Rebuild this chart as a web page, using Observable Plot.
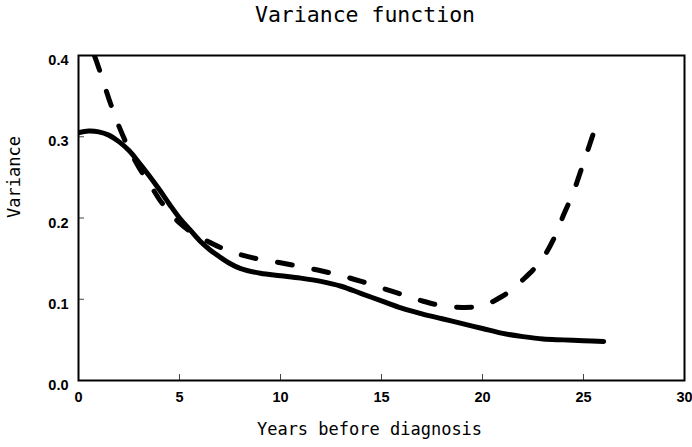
<!DOCTYPE html>
<html>
<head>
<meta charset="utf-8">
<script src="https://cdn.jsdelivr.net/npm/d3@7"></script>
<script src="https://cdn.jsdelivr.net/npm/@observablehq/plot@0.6"></script>
<style>
  body { margin: 0; background: white; }
  #wrap { width: 692px; height: 447px; position: relative; background: white; }
  #title { width: 654px; margin-left: 38px; height: 40px; box-sizing: border-box; padding-top: 4px;
           text-align: center; font-family: "DejaVu Sans Mono", monospace; font-size: 21.5px; line-height: 21.5px; color: black; }
</style>
</head>
<body>
<div id="wrap">
  <div id="title">Variance function</div>
  <div id="chart"></div>
</div>
<script>
const xTicks = [0, 5, 10, 15, 20, 25, 30];
const yTicks = [0, 0.1, 0.2, 0.3, 0.4];

const solidYears = [0, 0.5, 1, 1.5, 2, 2.5, 3, 3.5, 4, 4.5, 5, 5.5, 6, 6.5, 7, 7.5, 8, 9, 10, 11, 12, 13, 14, 15, 16, 17, 18, 19, 20, 21, 22, 23, 24, 25, 26];
const solidVariance = [0.305, 0.307, 0.306, 0.302, 0.294, 0.283, 0.268, 0.252, 0.235, 0.217, 0.200, 0.186, 0.172, 0.161, 0.152, 0.144, 0.138, 0.132, 0.129, 0.126, 0.122, 0.116, 0.107, 0.098, 0.089, 0.082, 0.076, 0.070, 0.064, 0.058, 0.054, 0.051, 0.050, 0.049, 0.048];

const dashYears = [0, 0.5, 1, 1.5, 2, 2.5, 3, 3.5, 4, 4.5, 5, 5.5, 6, 6.5, 7, 8, 9, 10, 11, 12, 13, 14, 15, 16, 17, 18, 19, 20, 21, 21.5, 22, 22.5, 23, 23.5, 24, 24.5, 25, 25.5, 25.72];
const dashVariance = [0.46, 0.42, 0.385, 0.347, 0.313, 0.285, 0.262, 0.243, 0.223, 0.207, 0.194, 0.184, 0.176, 0.170, 0.164, 0.155, 0.149, 0.145, 0.140, 0.135, 0.129, 0.122, 0.114, 0.106, 0.098, 0.092, 0.090, 0.092, 0.104, 0.113, 0.124, 0.136, 0.151, 0.173, 0.203, 0.232, 0.268, 0.305, 0.323];

const solid = solidYears.map((x, i) => ({x, v: solidVariance[i]}));
const dashed = dashYears.map((x, i) => ({x, v: dashVariance[i]}));

const innerX = xTicks.slice(1, -1);
const innerY = yTicks.slice(1, -1);

const chart = Plot.plot({
  width: 692,
  height: 407,
  marginLeft: 78,
  marginRight: 8,
  marginTop: 15,
  marginBottom: 67,
  style: {fontFamily: "DejaVu Sans Mono", background: "white", color: "black"},
  x: {domain: [0, 30]},
  y: {domain: [0, 0.4]},
  marks: [
    Plot.tickX(innerX, {x: d => d, stroke: "#444", strokeWidth: 1, insetTop: 319}),
    Plot.tickY(innerY, {y: d => d, stroke: "#444", strokeWidth: 1, insetRight: 600}),
    Plot.axisX({ticks: xTicks, tickSize: 0, tickPadding: 11, fontSize: 14.5, fontWeight: "bold", fontFamily: "Liberation Sans", label: null}),
    Plot.axisY({ticks: yTicks, tickSize: 0, tickPadding: 10, fontSize: 14.5, fontWeight: "bold", fontFamily: "Liberation Sans", tickFormat: ".1f", dy: 5, label: null}),
    Plot.text(["Years before diagnosis"], {frameAnchor: "bottom", dy: 54, dx: -12, fontSize: 17}),
    Plot.text(["Variance"], {frameAnchor: "left", dx: -64, rotate: -90, fontSize: 17}),
    Plot.line(solid, {x: "x", y: "v", stroke: "black", strokeWidth: 5, curve: "catmull-rom", strokeLinecap: "round", clip: true}),
    Plot.line(dashed, {x: "x", y: "v", stroke: "black", strokeWidth: 5, curve: "catmull-rom", strokeDasharray: "15,22", strokeDashoffset: 22, strokeLinecap: "round", clip: true}),
    Plot.frame({stroke: "black", strokeWidth: 2})
  ]
});
document.getElementById("chart").appendChild(chart);
</script>
</body>
</html>
